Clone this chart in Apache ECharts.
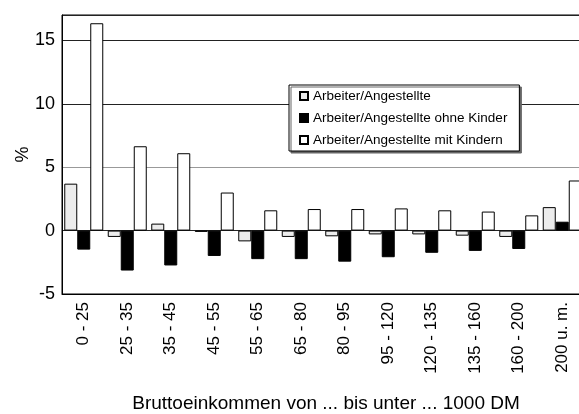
<!DOCTYPE html>
<html><head><meta charset="utf-8">
<script src="https://cdn.jsdelivr.net/npm/echarts@6/dist/echarts.min.js"></script>
<style>html,body{margin:0;padding:0;background:#fff}#c{width:579px;height:414px}</style>
</head><body><div id="c"></div>
<script>
const categories = ['0 - 25','25 - 35','35 - 45','45 - 55','55 - 65','65 - 80','80 - 95','95 - 120','120 - 135','135 - 160','160 - 200','200 u. m.'];
const seriesNames = ['Arbeiter/Angestellte','Arbeiter/Angestellte ohne Kinder','Arbeiter/Angestellte mit Kindern'];
const allWorkers = [3.7, -0.5, 0.55, -0.1, -0.85, -0.5, -0.45, -0.3, -0.3, -0.4, -0.5, 1.85];
const withoutKids = [-1.5, -3.15, -2.75, -2.0, -2.25, -2.25, -2.45, -2.1, -1.75, -1.6, -1.45, 0.7];
const withKids = [16.35, 6.65, 6.1, 3.0, 1.6, 1.7, 1.7, 1.75, 1.6, 1.5, 1.2, 3.95];
const yTicks = [-5, 0, 5, 10, 15];
const xTitle = 'Bruttoeinkommen von ... bis unter ... 1000 DM';

const font = "'Liberation Sans', Arial, sans-serif";
const chart = echarts.init(document.getElementById('c'), null, {renderer:'canvas'});
const barBase = {type:'bar', barWidth:13, barGap:'0%', animation:false};
chart.setOption({
  animation:false,
  backgroundColor:'#fff',
  grid:{left:62, top:15, width:522, height:279, show:true, borderColor:'#000', borderWidth:1,
    backgroundColor:'transparent', containLabel:false, outerBoundsMode:'none'},
  legend:{
    orient:'vertical', left:289, top:85,
    padding:[4,12,4,10], itemGap:8, itemWidth:8, itemHeight:8,
    backgroundColor:'#fff', borderColor:'#000', borderWidth:1,
    shadowColor:'#666', shadowOffsetX:2, shadowOffsetY:2, shadowBlur:0,
    icon:'rect',
    textStyle:{fontFamily:font, fontSize:13.5, color:'#000'},
    data:seriesNames
  },
  xAxis:{
    type:'category', data:categories,
    axisLine:{onZero:false, lineStyle:{color:'#000'}},
    axisTick:{show:false},
    axisLabel:{rotate:90, fontFamily:font, fontSize:17, color:'#000', margin:8, interval:0},
  },
  yAxis:{
    type:'value', min:-5, max:17, interval:5,
    name:'%', nameLocation:'middle', nameGap:30, nameRotate:90, nameMoveOverlap:false,
    nameTextStyle:{fontFamily:font, fontSize:18, color:'#000'},
    axisLine:{show:true, lineStyle:{color:'#000'}},
    axisTick:{show:false},
    axisLabel:{fontFamily:font, fontSize:18, color:'#000', margin:7,
      formatter:v => yTicks.includes(v) ? String(v) : ''},
    splitLine:{show:true, lineStyle:{color:['#222','#222','#999','#222','#222','#222'], width:1}}
  },
  graphic:[{type:'text', x:326, y:394,
    style:{text:xTitle, fontFamily:font, fontSize:19, fill:'#000', align:'center', verticalAlign:'top'}}],
  series:[
    Object.assign({}, barBase, {name:seriesNames[0], data:allWorkers, itemStyle:{color:'#ececec', borderColor:'#000', borderWidth:1}}),
    Object.assign({}, barBase, {name:seriesNames[1], data:withoutKids, itemStyle:{color:'#000', borderColor:'#000', borderWidth:1}}),
    Object.assign({}, barBase, {name:seriesNames[2], data:withKids, itemStyle:{color:'#fff', borderColor:'#000', borderWidth:1}})
  ]
});
</script></body></html>
